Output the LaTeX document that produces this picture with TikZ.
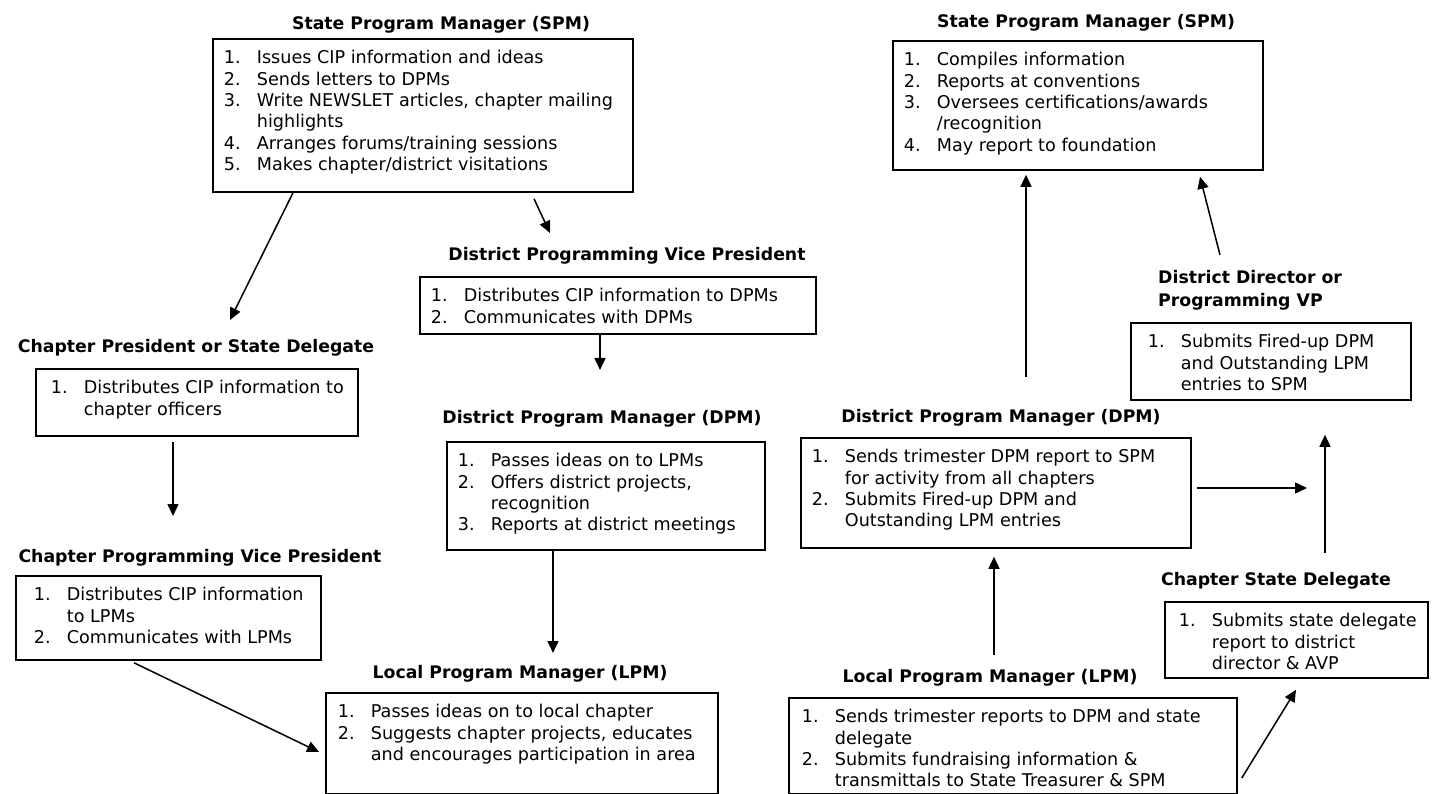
\documentclass[tikz,border=0pt]{standalone}
\usepackage{fontspec}
\setmainfont{DejaVu Sans}
\usetikzlibrary{arrows.meta}

\newcommand{\itm}[1]{\strut\makebox[33pt][l]{#1}}
\newcommand{\contline}{\hspace*{33pt}}
\newcommand{\boxtext}[4][11pt]{\parbox[t][#3][t]{#2}{\vspace*{10pt}\leftskip=#1\relax #4}}

\begin{document}
\begin{tikzpicture}[x=1pt,y=-1pt,
	heading/.style={inner sep=0pt,font=\fontsize{17.3}{23}\selectfont\bfseries},
	listbox/.style={draw,line width=1.8pt,inner sep=0pt,anchor=north west,font=\fontsize{17.6}{21.3}\selectfont},
	flow/.style={line width=1.5pt,-{Triangle[length=12pt,width=11pt]}}]
	\useasboundingbox (0,0) rectangle (1433,794);
	
	% left half: information going down
	\node[heading] (spmAt) at (441,25) {State Program Manager (SPM)};
	\node[listbox] (spmA) at (212,38) {\boxtext{420pt}{153pt}{%
			\itm{1.}Issues CIP information and ideas\\
			\itm{2.}Sends letters to DPMs\\
			\itm{3.}Write NEWSLET articles, chapter mailing\\
			\contline highlights\\
			\itm{4.}Arranges forums/training sessions\\
			\itm{5.}Makes chapter/district visitations}};
	
	\node[heading] (cpsdt) at (196,348) {Chapter President or State Delegate};
	\node[listbox] (cpsd) at (35,368) {\boxtext[15pt]{322pt}{67pt}{%
			\itm{1.}Distributes CIP information to\\
			\contline chapter officers}};
	
	\node[heading] (dpvpt) at (627,256) {District Programming Vice President};
	\node[listbox] (dpvp) at (419,276) {\boxtext{396pt}{57pt}{%
			\itm{1.}Distributes CIP information to DPMs\\
			\itm{2.}Communicates with DPMs}};
	
	\node[heading] (dpmAt) at (602,419) {District Program Manager (DPM)};
	\node[listbox] (dpmA) at (446,441) {\boxtext{318pt}{108pt}{%
			\itm{1.}Passes ideas on to LPMs\\
			\itm{2.}Offers district projects,\\
			\contline recognition\\
			\itm{3.}Reports at district meetings}};
	
	\node[heading] (cpvpt) at (200,558) {Chapter Programming Vice President};
	\node[listbox] (cpvp) at (15,575) {\boxtext[18pt]{305pt}{84pt}{%
			\itm{1.}Distributes CIP information\\
			\contline to LPMs\\
			\itm{2.}Communicates with LPMs}};
	
	\node[heading] (lpmAt) at (520,674) {Local Program Manager (LPM)};
	\node[listbox] (lpmA) at (325,692) {\boxtext[12pt]{392pt}{101pt}{%
			\itm{1.}Passes ideas on to local chapter\\
			\itm{2.}Suggests chapter projects, educates\\
			\contline and encourages participation in area}};
	
	\coordinate (toCpsd) at (230,320);
	\coordinate (toDpvp) at (550,233);
	\coordinate (toDpmA) at (600,370);
	\coordinate (toCpvp) at (173,516);
	\coordinate (toLpmA) at (553,653);
	\draw[flow] ([xshift=81pt]spmA.south west) -- (toCpsd);
	\draw[flow] ([shift={(322pt,-6pt)}]spmA.south west) -- (toDpvp);
	\draw[flow] ([xshift=181pt]dpvp.south west) -- (toDpmA);
	\draw[flow] ([shift={(138pt,-5pt)}]cpsd.south west) -- (toCpvp);
	\draw[flow] ([xshift=107pt]dpmA.south west) -- (toLpmA);
	\draw[flow] ([shift={(119pt,-2pt)}]cpvp.south west) -- ([shift={(-6pt,-60pt)}]lpmA.north west);
	
	% right half: reports going up
	\node[heading] (spmBt) at (1086,23) {State Program Manager (SPM)};
	\node[listbox] (spmB) at (892,40) {\boxtext{370pt}{129pt}{%
			\itm{1.}Compiles information\\
			\itm{2.}Reports at conventions\\
			\itm{3.}Oversees certifications/awards\\
			\contline /recognition\\
			\itm{4.}May report to foundation}};
	
	\node[heading,align=left,anchor=west] (ddvpt) at (1158,290.5) {District Director or\\Programming VP};
	\node[listbox] (ddvp) at (1130,322) {\boxtext[17pt]{280pt}{77pt}{%
			\itm{1.}Submits Fired-up DPM\\
			\contline and Outstanding LPM\\
			\contline entries to SPM}};
	
	\node[heading] (dpmBt) at (1001,418) {District Program Manager (DPM)};
	\node[listbox] (dpmB) at (800,437) {\boxtext{390pt}{110pt}{%
			\itm{1.}Sends trimester DPM report to SPM\\
			\contline for activity from all chapters\\
			\itm{2.}Submits Fired-up DPM and\\
			\contline Outstanding LPM entries}};
	
	\node[heading] (csdt) at (1276,581) {Chapter State Delegate};
	\node[listbox] (csd) at (1164,601) {\boxtext[14pt]{263pt}{76pt}{%
			\itm{1.}Submits state delegate\\
			\contline report to district\\
			\contline director \& AVP}};
	
	\node[heading] (lpmBt) at (990,678) {Local Program Manager (LPM)};
	\node[listbox] (lpmB) at (788,697) {\boxtext[13pt]{448pt}{96pt}{%
			\itm{1.}Sends trimester reports to DPM and state\\
			\contline delegate\\
			\itm{2.}Submits fundraising information \&\\
			\contline transmittals to State Treasurer \& SPM}};
	
	\coordinate (fromLpmB) at (994,655);
	\coordinate (toDdvp) at (1307,488);
	\draw[flow] (fromLpmB) -- ([shift={(194pt,-8pt)}]dpmB.south west);
	\draw[flow] ([shift={(4pt,-81pt)}]lpmB.north east) -- ([shift={(132pt,-11pt)}]csd.south west);
	\draw[flow] ([shift={(5pt,-51pt)}]dpmB.north east) -- (toDdvp);
	\draw[flow] ([shift={(161pt,48pt)}]csd.north west) -- ([shift={(195pt,-34pt)}]ddvp.south west);
	\draw[flow] ([shift={(226pt,60pt)}]dpmB.north west) -- ([shift={(134pt,-4pt)}]spmB.south west);
	\draw[flow] ([shift={(90pt,67pt)}]ddvp.north west) -- ([shift={(308pt,-6pt)}]spmB.south west);
\end{tikzpicture}
\end{document}
